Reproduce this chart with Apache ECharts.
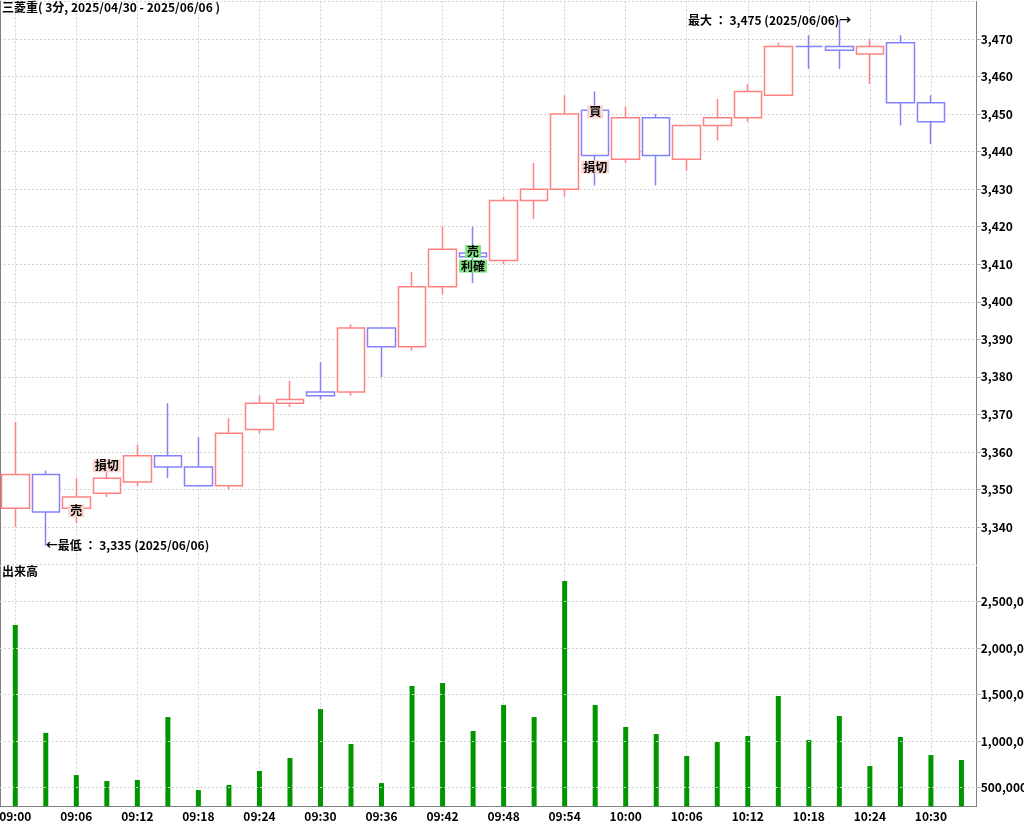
<!DOCTYPE html>
<html><head><meta charset="utf-8">
<script src="https://cdn.jsdelivr.net/npm/echarts@6/dist/echarts.min.js"></script>
<style>html,body{margin:0;padding:0;background:#fff}#c{width:1024px;height:822px}</style>
</head><body><div id="c"></div>
<script>
const titleText = '三菱重( 3分, 2025/04/30 - 2025/06/06 )';
const volumeTitle = '出来高';
const times = ['09:00','09:03','09:06','09:09','09:12','09:15','09:18','09:21','09:24','09:27',
  '09:30','09:33','09:36','09:39','09:42','09:45','09:48','09:51','09:54','09:57',
  '10:00','10:03','10:06','10:09','10:12','10:15','10:18','10:21','10:24','10:27','10:30','10:33'];
const opens  = [3345,3354,3345,3349,3352,3359,3356,3351,3366,3373,3376,3376,3393,3388,3404,3413,3411,3427,3430,3451,3438,3449,3438,3447,3449,3455,3468,3468,3466,3469,3453,null];
const closes = [3354,3344,3348,3353,3359,3356,3351,3365,3373,3374,3375,3393,3388,3404,3414,3412,3427,3430,3450,3439,3449,3439,3447,3449,3456,3468,3468,3467,3468,3453,3448,null];
const lows   = [3340,3335,3341,3348,3351,3353,3351,3350,3365,3372,3374,3375,3380,3387,3402,3405,3410,3422,3428,3431,3437,3431,3435,3443,3448,3455,3462,3462,3458,3447,3442,null];
const highs  = [3368,3355,3353,3358,3362,3373,3364,3369,3375,3379,3384,3394,3393,3408,3420,3420,3428,3437,3455,3456,3452,3450,3447,3454,3458,3469,3471,3475,3470,3471,3455,null];
const volumes = [2250000,1090000,636000,572000,583000,1260000,475000,529000,680000,819000,
  1346000,970000,550000,1594000,1626000,1110000,1389000,1260000,2723000,1389000,
  1153000,1077000,841000,991000,1056000,1486000,1013000,1271000,733000,1045000,851000,798000];
const volumeTicks = [500000,1000000,1500000,2000000,2500000];
const extremeDate = '2025/06/06';
// trade signals: candle index, price level, text, kind
const signalIdx   = [2, 3, 15, 15, 19, 19];
const signalPrice = [3344.3, 3356.3, 3413.4, 3409.5, 3450.6, 3435.9];
const signalText  = ['売','損切','売','利確','買','損切'];
const signalKind  = ['loss','loss','win','win','loss','loss'];

const UP = '#ff8282', DOWN = '#8282ff';
const FONT = "'Noto Sans CJK JP', sans-serif";
const fmt = v => Number(v).toLocaleString('en-US');

const candleData = times.map((t, i) => {
  if (opens[i] == null) return '-';
  const item = { value: [opens[i], closes[i], lows[i], highs[i]] };
  if (opens[i] === closes[i]) item.itemStyle = { color: '#fff', borderColor: DOWN, borderColor0: DOWN };
  return item;
});

let minI = 0, maxI = 0;
lows.forEach((v, i) => { if (v != null && v < lows[minI]) minI = i; });
highs.forEach((v, i) => { if (v != null && v > highs[maxI]) maxI = i; });

const bgColor = { loss: '#f8d6d0', win: '#84e484' };
const markData = signalIdx.map((idx, k) => ({
  coord: [idx, signalPrice[k]], symbol: 'rect', symbolSize: 0,
  label: { show: true, position: 'inside', formatter: signalText[k], color: '#000',
    fontFamily: FONT, fontSize: 12, fontWeight: 'bold', backgroundColor: bgColor[signalKind[k]],
    padding: [1, 2, 0, 2] }
}));
markData.push({
  coord: [minI, lows[minI]], symbol: 'rect', symbolSize: 0,
  label: { show: true, position: 'right', distance: 0, color: '#000', fontFamily: FONT, fontSize: 12, fontWeight: 'bold',
    formatter: '←最低 ： ' + fmt(lows[minI]) + ' (' + extremeDate + ')' }
});
markData.push({
  coord: [maxI, highs[maxI]], symbol: 'rect', symbolSize: 0,
  label: { show: true, position: 'left', distance: 0, offset: [12, 0], color: '#000', fontFamily: FONT, fontSize: 12, fontWeight: 'bold',
    formatter: '最大 ： ' + fmt(highs[maxI]) + ' (' + extremeDate + ')→' }
});

const dashed = { color: '#d4d4d4', type: [2, 2], width: 1 };
const GRID_R = 47.3;

const option = {
  animation: false,
  backgroundColor: '#fff',
  textStyle: { fontFamily: FONT },
  title: [
    { text: titleText, left: 2, top: 1, padding: 0, textStyle: { fontSize: 12, fontWeight: 'bold', color: '#000', fontFamily: FONT } },
    { text: volumeTitle, left: 2, top: 565, padding: 0, textStyle: { fontSize: 12, fontWeight: 'bold', color: '#000', fontFamily: FONT } }
  ],
  grid: [
    { left: 0, right: GRID_R, top: 1.5, height: 563.1, containLabel: false, outerBoundsMode: 'none' },
    { left: 0, right: GRID_R, top: 566.4, height: 239.9, containLabel: false, outerBoundsMode: 'none' }
  ],
  xAxis: [
    { type: 'category', gridIndex: 0, data: times, boundaryGap: true,
      axisLine: { show: false }, axisTick: { show: false }, axisLabel: { show: false },
      splitLine: { show: true, interval: 1, alignWithLabel: true, lineStyle: dashed } },
    { type: 'category', gridIndex: 1, data: times, boundaryGap: true,
      axisLine: { show: true, lineStyle: { color: '#808080' } }, axisTick: { show: false },
      axisLabel: { interval: 1, color: '#000', fontSize: 12, fontWeight: 'bold', margin: 4, fontFamily: FONT },
      splitLine: { show: true, interval: 1, alignWithLabel: true, lineStyle: dashed } }
  ],
  yAxis: [
    { type: 'value', gridIndex: 0, position: 'right', min: 3330, max: 3480, interval: 10,
      axisLine: { show: true, lineStyle: { color: '#808080' } },
      axisTick: { show: true, length: 4, lineStyle: { color: '#b0b0b0' } },
      axisLabel: { color: '#000', fontSize: 12, fontWeight: 'bold', margin: 4, fontFamily: FONT,
        showMinLabel: false, showMaxLabel: false, formatter: v => fmt(v) },
      splitLine: { show: true, lineStyle: dashed } },
    { type: 'value', gridIndex: 1, position: 'right', min: 300000, max: 2880000,
      axisLine: { show: true, lineStyle: { color: '#808080' } },
      axisTick: { show: true, length: 4, customValues: volumeTicks, lineStyle: { color: '#b0b0b0' } },
      axisLabel: { color: '#000', fontSize: 12, fontWeight: 'bold', margin: 4, fontFamily: FONT,
        customValues: volumeTicks, formatter: v => fmt(v) },
      splitLine: { show: false } },
    { type: 'value', gridIndex: 0, position: 'left',
      axisLine: { show: true, lineStyle: { color: '#808080', width: 2 } },
      axisTick: { show: false }, axisLabel: { show: false }, splitLine: { show: false } },
    { type: 'value', gridIndex: 1, position: 'left',
      axisLine: { show: true, lineStyle: { color: '#808080', width: 2 } },
      axisTick: { show: false }, axisLabel: { show: false }, splitLine: { show: false } }
  ],
  series: [
    { type: 'candlestick', xAxisIndex: 0, yAxisIndex: 0, data: candleData, barWidth: 28,
      itemStyle: { color: '#fff', color0: '#fff', borderColor: UP, borderColor0: DOWN, borderWidth: 1.5 },
      markPoint: { silent: true, animation: false, data: markData } },
    { type: 'bar', xAxisIndex: 1, yAxisIndex: 1, data: volumes, barWidth: 5,
      itemStyle: { color: '#009600' },
      markLine: { silent: true, symbol: 'none', animation: false, label: { show: false },
        lineStyle: dashed, data: volumeTicks.map(v => ({ yAxis: v })) } }
  ]
};
echarts.init(document.getElementById('c')).setOption(option);
</script></body></html>
